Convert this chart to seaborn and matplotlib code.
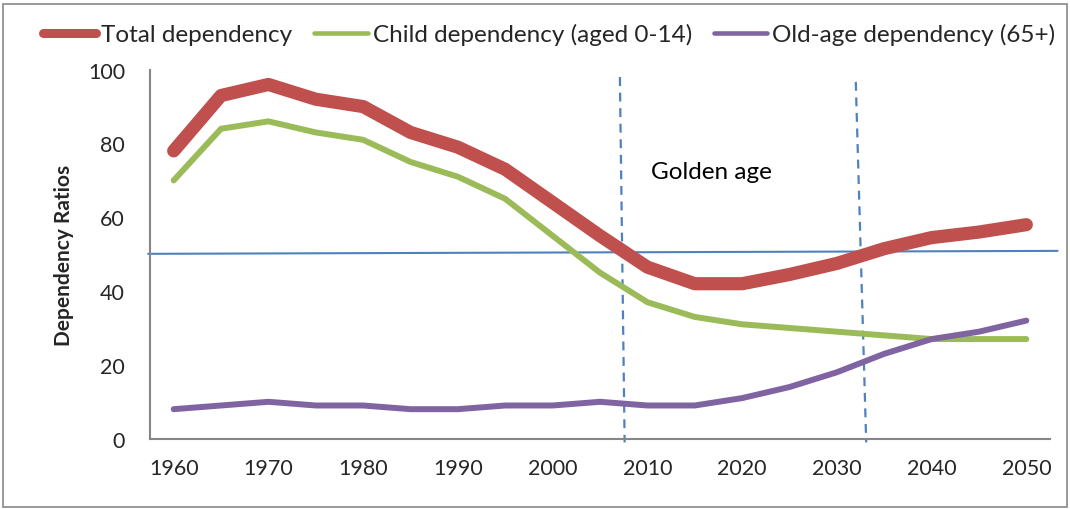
import matplotlib
matplotlib.use("Agg")
import matplotlib.pyplot as plt
import seaborn as sns
import pandas as pd
from matplotlib.patches import Rectangle
from matplotlib.lines import Line2D

years = list(range(1960, 2051, 5))
total = [78, 93, 96, 92, 90, 83, 79, 73, 64, 55, 46.5, 42, 42, 44.5, 47.5, 51.5, 54.5, 56, 58]
child = [70, 84, 86, 83, 81, 75, 71, 65, 55, 45, 37, 33, 31, 30, 29, 28, 27, 27, 27]
oldage = [8, 9, 10, 9, 9, 8, 8, 9, 9, 10, 9, 9, 11, 14, 18, 23, 27, 29, 32]
series_names = ["Total dependency", "Child dependency (aged 0-14)", "Old-age dependency (65+)"]
colors = ["#C0504D", "#9BBB59", "#8064A2"]
widths = [9.5, 4.3, 4.3]
legend_widths = [6.5, 3.3, 3.3]
x_tick_labels = list(range(1960, 2051, 10))
y_ticks = [0, 20, 40, 60, 80, 100]

sns.set_style("white")
plt.rcParams['font.family'] = ['Lato', 'DejaVu Sans']

fig = plt.figure(figsize=(10.7, 5.1), dpi=100)
ax = fig.add_axes([150/1070, 1-439.7/510, 900/1070, (439.7-70.7)/510])

for name, vals, c, w in zip(series_names, [total, child, oldage], colors, widths):
    df = pd.DataFrame({"year": years, "value": vals})
    sns.lineplot(data=df, x="year", y="value", ax=ax, color=c, linewidth=w,
                 solid_capstyle="round", solid_joinstyle="round", legend=False)

# 50% reference line and "golden age" bounds
ax.plot([1957.3, 2053.3], [50.1, 50.9], color="#4F81BD", linewidth=1.5, clip_on=False, zorder=1)
ax.plot([2007.1, 2007.6], [98, -1], color="#4F81BD", linewidth=1.6, linestyle=(0, (4, 3)), clip_on=False, zorder=1)
ax.plot([2032.0, 2033.1], [96.7, -1], color="#4F81BD", linewidth=1.6, linestyle=(0, (4, 3)), clip_on=False, zorder=1)
ax.text(2010.4, 72.3, "Golden age", fontsize=17.5, va="center", ha="left", color="black")

ax.set_xlim(1957.5, 2052.5)
ax.set_ylim(0, 100)
ax.set_xticks(years)
ax.set_xticklabels([str(y) if y in x_tick_labels else "" for y in years])
ax.set_yticks(y_ticks)
ax.set_yticklabels([str(v) for v in y_ticks])
ax.set_xlabel("")
ax.set_ylabel("Dependency Ratios", fontsize=15, fontweight="bold")
ax.yaxis.set_label_coords(-(150-74)/900, 0.5)
ax.tick_params(axis="both", labelsize=15.5, length=5, width=1.2, color="#868686", direction="out")
ax.tick_params(axis="x", pad=9)
ax.tick_params(axis="y", pad=13)
for s in ["top", "right"]:
    ax.spines[s].set_visible(False)
for s in ["left", "bottom"]:
    ax.spines[s].set_color("#868686")
    ax.spines[s].set_linewidth(1.5)

handles = [Line2D([], [], color=c, linewidth=w, solid_capstyle="round")
           for c, w in zip(colors, legend_widths)]
fig.legend(handles, series_names, loc="center", bbox_to_anchor=(0.5 + 14/1070, 1-35/510), ncol=3, frameon=False,
           fontsize=17.5, handlelength=2.2, handletextpad=0.2, columnspacing=0.9)

fig.add_artist(Rectangle((3/1070, 2/510), 1064/1070, 503/510, transform=fig.transFigure,
                         fill=False, edgecolor="#888888", linewidth=1.2))

fig.savefig("out.png", dpi=100)
